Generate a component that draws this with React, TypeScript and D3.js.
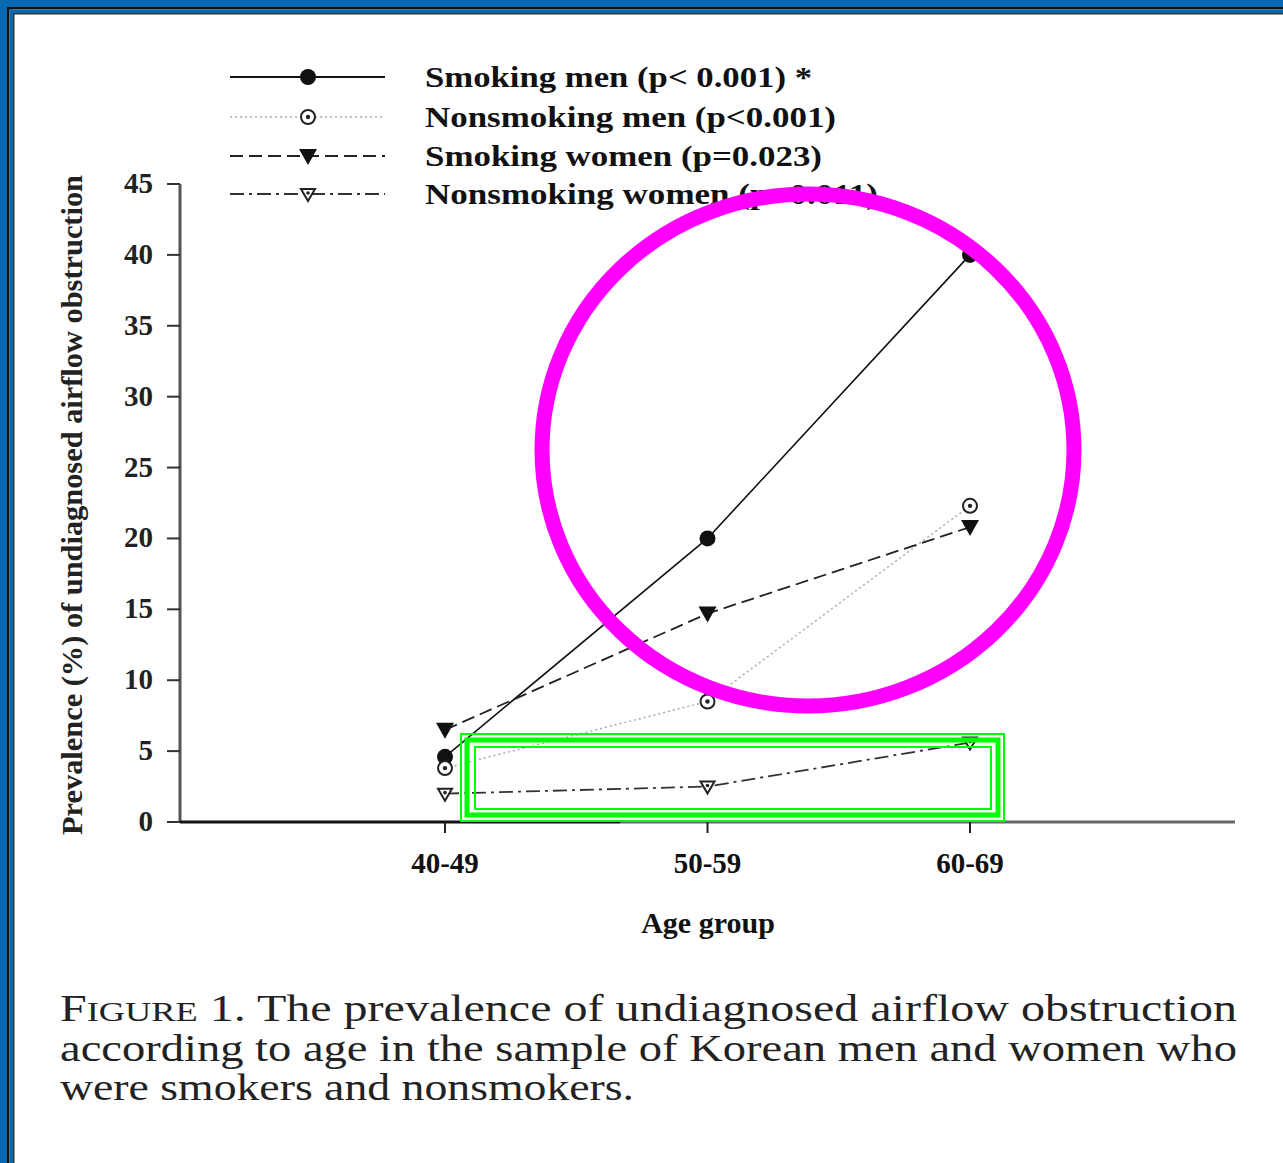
import { useEffect } from 'react';
import * as d3 from 'd3';

const ageGroups = ['40-49', '50-59', '60-69'];
const smokingMen = [4.6, 20.0, 40.0];
const nonsmokingMen = [3.8, 8.5, 22.3];
const smokingWomen = [6.5, 14.7, 20.8];
const nonsmokingWomen = [2.0, 2.5, 5.6];
const yTicks = [0, 5, 10, 15, 20, 25, 30, 35, 40, 45];
const legendLabels = [
  'Smoking men (p< 0.001) *',
  'Nonsmoking men (p<0.001)',
  'Smoking women (p=0.023)',
  'Nonsmoking women (p=0.011)',
];
const captionLines = [
  'The prevalence of undiagnosed airflow obstruction',
  'according to age in the sample of Korean men and women who',
  'were smokers and nonsmokers.',
];

const W = 1283;
const H = 1163;
const FONT = "'Liberation Serif', 'Times New Roman', Times, serif";
const BLUE = '#0868b2';

type Marker = 'dot' | 'ring' | 'tri' | 'triOpen';

const series = [
  { values: smokingMen, stroke: '#111', width: 1.6, dash: '', marker: 'dot' as Marker },
  { values: nonsmokingMen, stroke: '#aaa', width: 1.5, dash: '2,3', marker: 'ring' as Marker },
  { values: smokingWomen, stroke: '#222', width: 1.8, dash: '13,6', marker: 'tri' as Marker },
  { values: nonsmokingWomen, stroke: '#333', width: 1.8, dash: '14,5,3,5', marker: 'triOpen' as Marker },
];

// widths, used to stretch the texts
const legendWidths = [387, 411, 397, 453];

function drawMarker(kind: Marker, cx: number, cy: number) {
  if (kind === 'dot') return <circle cx={cx} cy={cy} r={8} fill="#111" />;
  if (kind === 'ring')
    return (
      <g>
        <circle cx={cx} cy={cy} r={7} fill="#fff" stroke="#222" strokeWidth={2} />
        <circle cx={cx} cy={cy} r={2.2} fill="#222" />
      </g>
    );
  if (kind === 'tri')
    return <path d={`M${cx - 9},${cy - 7}L${cx + 9},${cy - 7}L${cx},${cy + 9}Z`} fill="#111" />;
  return (
    <g>
      <path d={`M${cx - 7},${cy - 5}L${cx + 7},${cy - 5}L${cx},${cy + 7}Z`} fill="#fff" stroke="#222" strokeWidth={2} />
      <circle cx={cx} cy={cy - 1} r={1.8} fill="#222" />
    </g>
  );
}

export default function App() {
  useEffect(() => {
    document.body.style.margin = '0';
  }, []);

  const x = d3.scalePoint<string>().domain(ageGroups).range([445, 970]);
  const y = d3.scaleLinear().domain([0, 45]).range([822, 184]);
  const line = d3
    .line<number>()
    .x((_, i) => x(ageGroups[i]) as number)
    .y((d) => y(d));

  const legendY = [77, 117, 156, 194];

  return (
    <svg width={W} height={H} style={{ display: 'block', background: '#fff', fontFamily: FONT }}>
      <rect x={0} y={0} width={W} height={H} fill="#fff" />

      {/* frame */}
      <rect x={0} y={0} width={W} height={8} fill={BLUE} />
      <rect x={0} y={0} width={7} height={H} fill={BLUE} />
      <rect x={7} y={7} width={W} height={2.5} fill="#111" />
      <rect x={7} y={7} width={2.5} height={H} fill="#111" />
      <rect x={9.5} y={9.5} width={W} height={3.5} fill={BLUE} />
      <rect x={9.5} y={9.5} width={3.5} height={H} fill={BLUE} />
      <rect x={13} y={13} width={W} height={1.5} fill="#333" />
      <rect x={13} y={13} width={1.5} height={H} fill="#333" />

      {/* legend */}
      {series.map((s, i) => (
        <g key={i}>
          <line x1={230} x2={385} y1={legendY[i]} y2={legendY[i]} stroke={s.stroke} strokeWidth={i === 1 ? 1.5 : 2.2} strokeDasharray={s.dash} />
          {drawMarker(s.marker, 308, legendY[i])}
          <text
            x={425}
            y={legendY[i] + 10}
            fontWeight="bold"
            fontSize={29}
            fill="#111"
            textLength={legendWidths[i]}
            lengthAdjust="spacingAndGlyphs"
          >
            {legendLabels[i]}
          </text>
        </g>
      ))}

      {/* y axis */}
      <line x1={180} x2={180} y1={184} y2={823} stroke="#555" strokeWidth={3} />
      {yTicks.map((t) => (
        <g key={t}>
          <line x1={167} x2={180} y1={y(t)} y2={y(t)} stroke="#333" strokeWidth={2} />
          <text x={153} y={y(t) + 9} textAnchor="end" fontWeight="bold" fontSize={29} fill="#222">
            {t}
          </text>
        </g>
      ))}
      <text
        transform="translate(82,505) rotate(-90)"
        textAnchor="middle"
        fontWeight="bold"
        fontSize={30}
        fill="#222"
        textLength={660}
        lengthAdjust="spacingAndGlyphs"
      >
        Prevalence (%) of undiagnosed airflow obstruction
      </text>

      {/* x axis */}
      <line x1={180} x2={620} y1={822} y2={822} stroke="#111" strokeWidth={3} />
      <line x1={620} x2={1235} y1={822} y2={822} stroke="#666" strokeWidth={3} />
      {ageGroups.map((g) => (
        <g key={g}>
          <line x1={x(g)} x2={x(g)} y1={822} y2={833} stroke="#222" strokeWidth={2} />
          <text x={x(g)} y={873} textAnchor="middle" fontWeight="bold" fontSize={29} fill="#111">
            {g}
          </text>
        </g>
      ))}
      <text x={708} y={933} textAnchor="middle" fontWeight="bold" fontSize={30} fill="#111">
        Age group
      </text>

      {/* series */}
      {series.map((s, i) => (
        <g key={i}>
          <path d={line(s.values) as string} fill="none" stroke={s.stroke} strokeWidth={s.width} strokeDasharray={s.dash} />
          {s.values.map((v, j) => (
            <g key={j}>{drawMarker(s.marker, x(ageGroups[j]) as number, y(v))}</g>
          ))}
        </g>
      ))}

      {/* annotations */}
      <ellipse cx={808} cy={450} rx={266} ry={256} fill="none" stroke="#ff00ff" strokeWidth={15} />
      <rect x={461} y={734} width={543} height={87} fill="none" stroke="#00ff00" strokeWidth={2} />
      <rect x={467} y={740} width={531} height={75} fill="none" stroke="#00ff00" strokeWidth={5} />
      <rect x={475} y={747} width={516} height={62} fill="none" stroke="#00ff00" strokeWidth={2} />

      {/* caption */}
      <g fontSize={37} fill="#222">
        <text x={60} y={1021} textLength={1177} lengthAdjust="spacingAndGlyphs">
          F<tspan fontSize={28}>IGURE</tspan> 1. {captionLines[0]}
        </text>
        <text x={60} y={1061} textLength={1177} lengthAdjust="spacingAndGlyphs">
          {captionLines[1]}
        </text>
        <text x={60} y={1100} textLength={574} lengthAdjust="spacingAndGlyphs">
          {captionLines[2]}
        </text>
      </g>
    </svg>
  );
}
